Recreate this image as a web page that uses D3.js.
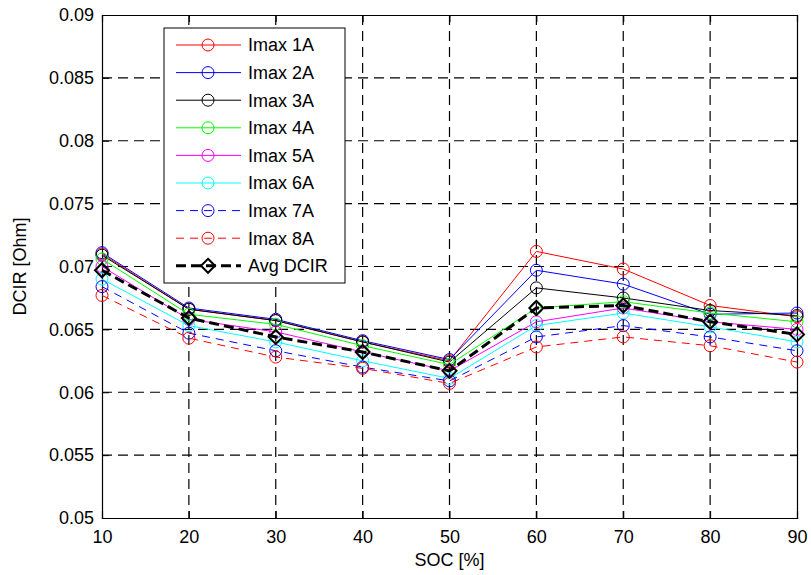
<!DOCTYPE html>
<html><head><meta charset="utf-8">
<script src="https://cdn.jsdelivr.net/npm/d3@7"></script>
<style>body{margin:0;background:#fff}svg{display:block}text{font-family:"Liberation Sans",Arial,sans-serif}</style>
</head><body><svg id="c" width="811" height="575"></svg>
<script>
const soc = [10,20,30,40,50,60,70,80,90];
const xTicks = [10,20,30,40,50,60,70,80,90];
const yTicks = [0.05,0.055,0.06,0.065,0.07,0.075,0.08,0.085,0.09];
const seriesNames = ["Imax 1A","Imax 2A","Imax 3A","Imax 4A","Imax 5A","Imax 6A","Imax 7A","Imax 8A","Avg DCIR"];
const imax1 = [0.0710,0.0666,0.0657,0.0640,0.0625,0.0712,0.0698,0.0669,0.0660];
const imax2 = [0.0711,0.0667,0.0658,0.0641,0.0626,0.0697,0.0686,0.0662,0.0663];
const imax3 = [0.0709,0.0666,0.0657,0.0640,0.0624,0.0683,0.0675,0.0665,0.0661];
const imax4 = [0.0706,0.0662,0.0654,0.0637,0.0622,0.0667,0.0672,0.0663,0.0656];
const imax5 = [0.0700,0.0658,0.0648,0.0632,0.0617,0.0656,0.0667,0.0656,0.0650];
const imax6 = [0.0690,0.0653,0.0640,0.0625,0.0611,0.0653,0.0663,0.0652,0.0640];
const imax7 = [0.0684,0.0647,0.0633,0.0620,0.0609,0.0644,0.0653,0.0644,0.0633];
const imax8 = [0.0677,0.0643,0.0628,0.0619,0.0607,0.0636,0.0644,0.0637,0.0624];
const avgDcir = [0.0697,0.0659,0.0644,0.0632,0.0617,0.0667,0.0669,0.0656,0.0646];

const seriesData = [imax1,imax2,imax3,imax4,imax5,imax6,imax7,imax8,avgDcir];
const colors = ["#ff0000","#0000ff","#000000","#00ff00","#ff00ff","#00ffff","#0000ff","#ff0000","#000000"];
const dashes = [null,null,null,null,null,null,"8,6","8,6","10,5"];
const widths = [1,1,1,1,1,1,1,1,3];

const svg = d3.select("#c");
const L=102,T=15,R=797,B=518;
const x = d3.scaleLinear().domain([10,90]).range([L,R]);
const y = d3.scaleLinear().domain([0.05,0.09]).range([B,T]);
const fs = 18;

// grid
const g = svg.append("g");
g.selectAll(".gx").data(xTicks.slice(1,-1)).enter().append("line")
 .attr("x1",d=>x(d)).attr("x2",d=>x(d)).attr("y1",T).attr("y2",B)
 .attr("stroke","#000").attr("stroke-width",1.2).attr("stroke-dasharray","10,6");
g.selectAll(".gy").data(yTicks.slice(1,-1)).enter().append("line")
 .attr("y1",d=>y(d)).attr("y2",d=>y(d)).attr("x1",L).attr("x2",R)
 .attr("stroke","#000").attr("stroke-width",1.2).attr("stroke-dasharray","10,6");

// axes
const xAxis = svg.append("g").attr("transform",`translate(0,${B})`)
 .call(d3.axisBottom(x).tickValues(xTicks).tickSize(-7).tickPadding(12).tickFormat(d3.format("d")));
const yAxis = svg.append("g").attr("transform",`translate(${L},0)`)
 .call(d3.axisLeft(y).tickValues(yTicks).tickSize(-7).tickPadding(8).tickFormat(d=>String(+d.toFixed(3))));
svg.append("g").attr("transform",`translate(0,${T})`)
 .call(d3.axisTop(x).tickValues(xTicks).tickSize(-7).tickFormat(""));
svg.append("g").attr("transform",`translate(${R},0)`)
 .call(d3.axisRight(y).tickValues(yTicks).tickSize(-7).tickFormat(""));
svg.selectAll(".domain").attr("stroke","#000").attr("stroke-width",1.2);
svg.selectAll(".tick line").attr("stroke","#000");
[xAxis,yAxis].forEach(a=>a.selectAll("text").attr("font-size",fs).attr("fill","#000").style("font-family","'Liberation Sans',Arial,sans-serif"));
xAxis.selectAll("text").attr("dy","0.71em");

svg.append("text").attr("x",(L+R)/2).attr("y",566).attr("text-anchor","middle").attr("font-size",fs).text("SOC [%]");
svg.append("text").attr("transform",`translate(26,${(T+B)/2}) rotate(-90)`).attr("text-anchor","middle").attr("font-size",fs).text("DCIR [Ohm]");

// series
const line = d3.line().x((d,i)=>x(soc[i])).y(d=>y(d));
const diamond = (cx,cy,r)=>`M${cx},${cy-r}L${cx+r},${cy}L${cx},${cy+r}L${cx-r},${cy}Z`;
seriesData.forEach((vals,k)=>{
  const s = svg.append("g");
  s.append("path").attr("d",line(vals)).attr("fill","none").attr("stroke",colors[k])
   .attr("stroke-width",widths[k]).attr("stroke-dasharray",dashes[k]);
  if(k<8){
    s.selectAll("circle").data(vals).enter().append("circle")
     .attr("cx",(d,i)=>x(soc[i])).attr("cy",d=>y(d)).attr("r",6)
     .attr("fill","none").attr("stroke",colors[k]).attr("stroke-width",1);
  } else {
    s.selectAll("path.m").data(vals).enter().append("path").attr("class","m")
     .attr("d",(d,i)=>diamond(x(soc[i]),y(d),7)).attr("fill","none").attr("stroke","#000").attr("stroke-width",2);
  }
});

// legend
const lg = svg.append("g");
lg.append("rect").attr("x",164).attr("y",28).attr("width",181).attr("height",255).attr("fill","#fff").attr("stroke","#000").attr("stroke-width",1);
seriesNames.forEach((n,k)=>{
  const yy = 45 + k*27.6;
  lg.append("line").attr("x1",176).attr("x2",241).attr("y1",yy).attr("y2",yy)
   .attr("stroke",colors[k]).attr("stroke-width",widths[k]).attr("stroke-dasharray",dashes[k]);
  if(k<8) lg.append("circle").attr("cx",208).attr("cy",yy).attr("r",6).attr("fill","none").attr("stroke",colors[k]);
  else lg.append("path").attr("d",diamond(208,yy,7)).attr("fill","none").attr("stroke","#000").attr("stroke-width",2);
  lg.append("text").attr("x",248).attr("y",yy).attr("dy","0.35em").attr("font-size",fs).text(n);
});
</script></body></html>
